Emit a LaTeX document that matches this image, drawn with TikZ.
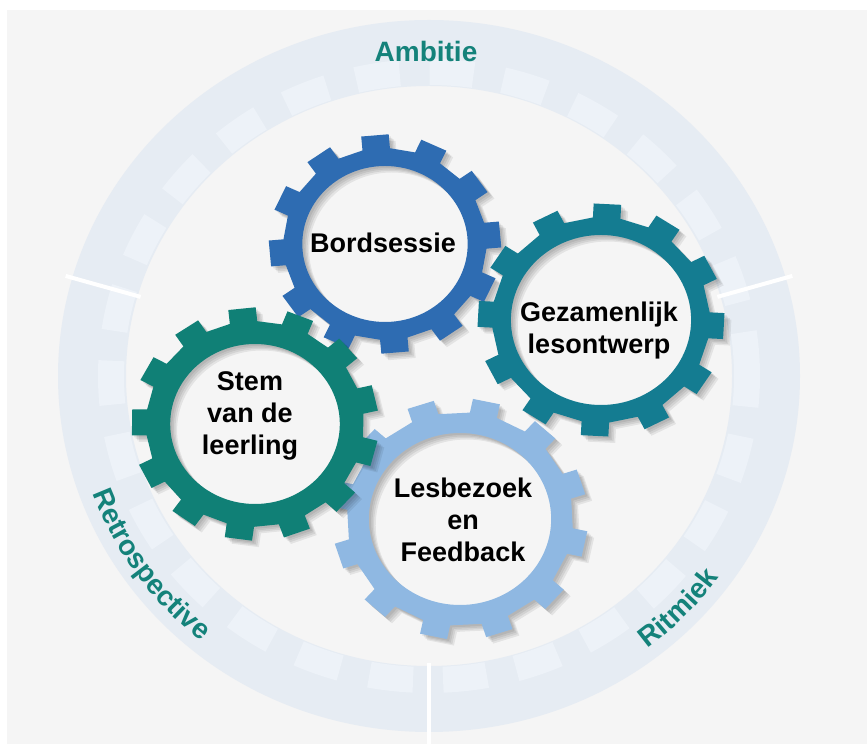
\documentclass[tikz,border=0pt]{standalone}
\usepackage{fontspec}
\setmainfont{Liberation Sans}
\usetikzlibrary{decorations.text}

\definecolor{background}{RGB}{245,245,245}
\definecolor{ringbase}{RGB}{230,236,243}
\definecolor{ringlight}{RGB}{237,242,248}
\definecolor{labelteal}{RGB}{20,130,122}
\definecolor{gearblue}{RGB}{46,108,178}
\definecolor{gearpetrol}{RGB}{20,124,145}
\definecolor{geargreen}{RGB}{16,128,118}
\definecolor{gearlight}{RGB}{143,184,226}

\newcommand{\ringfont}{\fontsize{28}{30}\selectfont\bfseries\color{labelteal}}

% options, inner radius, outer radius, number of teeth, angle of first tooth
\newcommand{\gearshape}[5]{%
	\fill [#1, even odd rule] (0,0) circle [radius=#2]
		([rotate=#5]#3,-13) \foreach \k in {1,...,#4} {
			-- ([rotate=#5+(\k-1)*360/#4]#3,-13) -- ([rotate=#5+(\k-1)*360/#4]#3+14,-13)
			-- ([rotate=#5+(\k-1)*360/#4]#3+14,13) -- ([rotate=#5+(\k-1)*360/#4]#3,13)
		} -- cycle;}

% x, y, inner radius, outer radius, number of teeth, angle of first tooth, colour
\newcommand{\gear}[7]{%
	\begin{scope}[shift={(#1,#2)}, xscale=1.06]
		\foreach \s in {2,3.5,5,6.5} {
			\begin{scope}[shift={(\s,-\s)}]
				\gearshape{black, opacity=0.07}{#3}{#4}{#5}{#6}
			\end{scope}
		}
		\gearshape{#7}{#3}{#4}{#5}{#6}
	\end{scope}}

\begin{document}
\begin{tikzpicture}[x=1pt, y=1pt,
		gearlabel/.style={align=center, font=\fontsize{27}{32}\selectfont\bfseries},
		ringlabel/.style={text=labelteal, font=\fontsize{28}{30}\selectfont\bfseries},
		divider/.style={white, line width=4pt}]
	\useasboundingbox (0,0) rectangle (867,744);
	\fill [white] (0,0) rectangle (867,744);
	\fill [background] (7,0) rectangle (867,734);

	% outer ring
	\begin{scope}[shift={(429,368)}]
		\fill [ringbase, even odd rule] (0,0) ellipse [x radius=371, y radius=356]
			(0,0) ellipse [x radius=303, y radius=290];
		\draw [ringlight, line width=26pt, dash pattern=on 44pt off 30pt]
			(0,0) ellipse [x radius=318, y radius=304];
		\draw [divider] (16:300 and 287) -- (16:378 and 363);
		\draw [divider] (164:300 and 287) -- (164:378 and 363);
		\draw [divider] (270:300 and 287) -- (270:378 and 372);
		\node [ringlabel] (ambitie) at (-3,324) {Ambitie};
		\path [decorate, decoration={text along path, text align=center,
			text={|\ringfont|Ritmiek}}]
			(-66:358 and 344) arc [start angle=-66, end angle=-22, x radius=358, y radius=344];
		\path [decorate, decoration={text along path, text align=center,
			text={|\ringfont|Retrospective}}]
			(183:358 and 344) arc [start angle=183, end angle=247, x radius=358, y radius=344];
	\end{scope}

	% gears
	\gear{385}{500}{78}{95}{12}{5}{gearblue}
	\gear{460}{225}{86}{106}{12}{18}{gearlight}
	\gear{255}{320}{80}{102}{13}{13}{geargreen}
	\gear{601}{424}{85}{102}{12}{27}{gearpetrol}

	\node [gearlabel] (bordsessie) at (383,501) {Bordsessie};
	\node [gearlabel] (lesontwerp) at (599,413) {Gezamenlijk\\lesontwerp};
	\node [gearlabel] (leerling) at (250,328) {Stem\\van de\\leerling};
	\node [gearlabel] (lesbezoek) at (463,224) {Lesbezoek\\en\\Feedback};
\end{tikzpicture}
\end{document}
